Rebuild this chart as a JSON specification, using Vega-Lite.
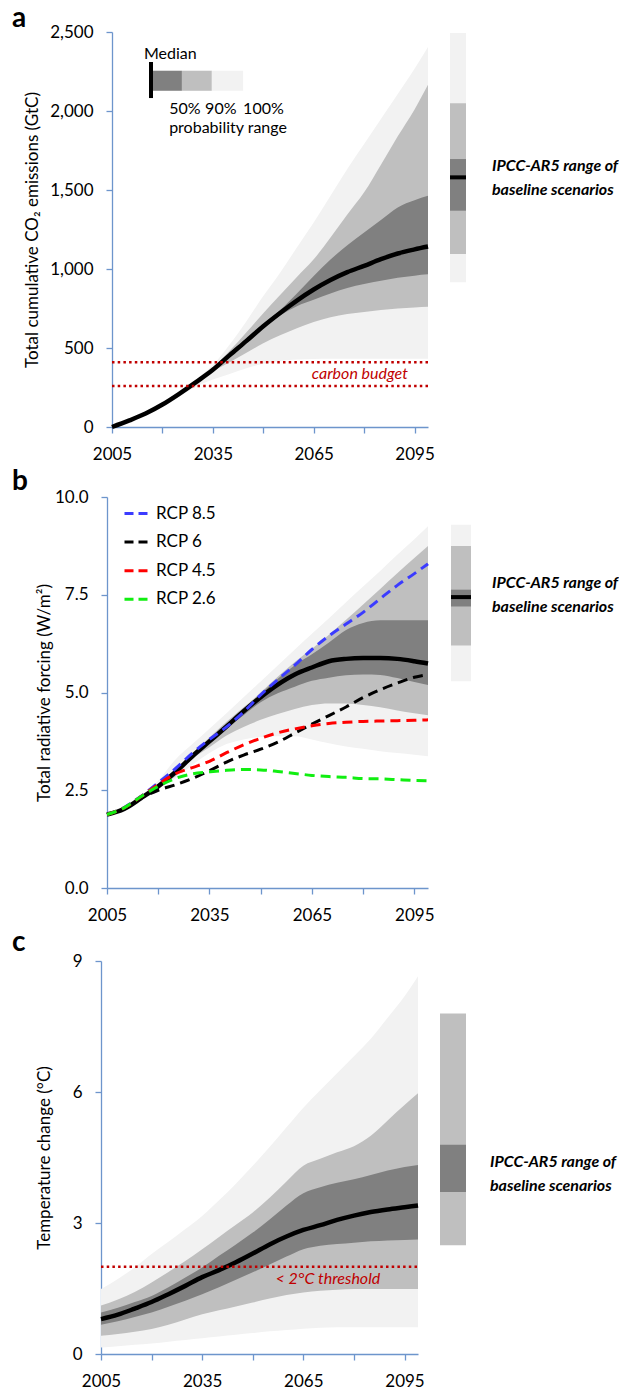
{
  "$schema": "https://vega.github.io/schema/vega-lite/v6.json",
  "background": "white",
  "padding": {"left": 12, "top": 5, "right": 0, "bottom": 0},
  "config": {
    "font": "Lato",
    "view": {"stroke": null},
    "axis": {"domainColor": "#6d95cc", "tickColor": "#6d95cc", "domainWidth": 1.3, "tickWidth": 1.3, "grid": false, "labelFont": "Lato", "labelFontSize": 17, "labelColor": "#000000", "titleFont": "Lato", "titleFontSize": 17, "titleFontWeight": "normal", "titleColor": "#000000", "tickSize": 6, "labelPadding": 13},
    "title": {"font": "Lato", "fontSize": 28, "fontWeight": "bold", "anchor": "start", "frame": "group", "color": "#000000", "offset": 0},
    "text": {"font": "Lato"}
  },
  "datasets": {
    "a": [
      {"year":2005,"median":0,"lo50":0,"hi50":0,"lo90":0,"hi90":0,"lo100":0,"hi100":0},
      {"year":2010,"median":40,"lo50":40,"hi50":40,"lo90":40,"hi90":40,"lo100":40,"hi100":40},
      {"year":2015,"median":85,"lo50":85,"hi50":85,"lo90":85,"hi90":85,"lo100":85,"hi100":85},
      {"year":2020,"median":142,"lo50":142,"hi50":142,"lo90":142,"hi90":142,"lo100":140,"hi100":145},
      {"year":2025,"median":210,"lo50":210,"hi50":210,"lo90":208,"hi90":212,"lo100":195,"hi100":216},
      {"year":2030,"median":284,"lo50":283,"hi50":285,"lo90":278,"hi90":292,"lo100":255,"hi100":300},
      {"year":2035,"median":362,"lo50":360,"hi50":364,"lo90":352,"hi90":375,"lo100":300,"hi100":392},
      {"year":2040,"median":455,"lo50":450,"hi50":460,"lo90":410,"hi90":482,"lo100":335,"hi100":522},
      {"year":2045,"median":545,"lo50":538,"hi50":552,"lo90":470,"hi90":600,"lo100":372,"hi100":670},
      {"year":2050,"median":638,"lo50":625,"hi50":650,"lo90":530,"hi90":720,"lo100":400,"hi100":829},
      {"year":2055,"median":722,"lo50":705,"hi50":740,"lo90":580,"hi90":835,"lo100":418,"hi100":977},
      {"year":2060,"median":800,"lo50":765,"hi50":845,"lo90":625,"hi90":950,"lo100":427,"hi100":1136},
      {"year":2065,"median":870,"lo50":805,"hi50":955,"lo90":665,"hi90":1061,"lo100":431,"hi100":1294},
      {"year":2070,"median":930,"lo50":845,"hi50":1060,"lo90":695,"hi90":1200,"lo100":432,"hi100":1463},
      {"year":2075,"median":980,"lo50":880,"hi50":1150,"lo90":715,"hi90":1345,"lo100":432,"hi100":1633},
      {"year":2080,"median":1020,"lo50":905,"hi50":1231,"lo90":728,"hi90":1485,"lo100":432,"hi100":1791},
      {"year":2085,"median":1062,"lo50":925,"hi50":1310,"lo90":740,"hi90":1660,"lo100":432,"hi100":1950},
      {"year":2090,"median":1098,"lo50":945,"hi50":1390,"lo90":750,"hi90":1840,"lo100":432,"hi100":2108},
      {"year":2095,"median":1124,"lo50":958,"hi50":1435,"lo90":757,"hi90":2010,"lo100":432,"hi100":2267},
      {"year":2099,"median":1142,"lo50":966,"hi50":1463,"lo90":761,"hi90":2166,"lo100":432,"hi100":2405}
    ],
    "b": [
      {"year":2005,"median":1.88,"lo50":1.88,"hi50":1.88,"lo90":1.88,"hi90":1.88,"lo100":1.88,"hi100":1.88},
      {"year":2010,"median":2.02,"lo50":2.02,"hi50":2.02,"lo90":2.02,"hi90":2.02,"lo100":2.01,"hi100":2.05},
      {"year":2015,"median":2.30,"lo50":2.30,"hi50":2.30,"lo90":2.29,"hi90":2.32,"lo100":2.27,"hi100":2.36},
      {"year":2020,"median":2.60,"lo50":2.60,"hi50":2.60,"lo90":2.58,"hi90":2.66,"lo100":2.55,"hi100":2.75},
      {"year":2025,"median":2.96,"lo50":2.95,"hi50":2.98,"lo90":2.85,"hi90":3.05,"lo100":2.80,"hi100":3.28},
      {"year":2030,"median":3.37,"lo50":3.35,"hi50":3.40,"lo90":3.30,"hi90":3.45,"lo100":3.15,"hi100":3.68},
      {"year":2035,"median":3.75,"lo50":3.72,"hi50":3.78,"lo90":3.60,"hi90":3.85,"lo100":3.45,"hi100":4.07},
      {"year":2040,"median":4.13,"lo50":4.08,"hi50":4.18,"lo90":3.90,"hi90":4.25,"lo100":3.68,"hi100":4.47},
      {"year":2045,"median":4.52,"lo50":4.42,"hi50":4.58,"lo90":4.12,"hi90":4.62,"lo100":3.80,"hi100":4.88},
      {"year":2050,"median":4.88,"lo50":4.75,"hi50":4.97,"lo90":4.30,"hi90":5.00,"lo100":3.86,"hi100":5.28},
      {"year":2055,"median":5.20,"lo50":4.98,"hi50":5.35,"lo90":4.45,"hi90":5.40,"lo100":3.88,"hi100":5.69},
      {"year":2060,"median":5.46,"lo50":5.15,"hi50":5.70,"lo90":4.58,"hi90":5.78,"lo100":3.88,"hi100":6.10},
      {"year":2065,"median":5.64,"lo50":5.30,"hi50":5.98,"lo90":4.68,"hi90":6.12,"lo100":3.80,"hi100":6.50},
      {"year":2070,"median":5.80,"lo50":5.38,"hi50":6.28,"lo90":4.72,"hi90":6.48,"lo100":3.70,"hi100":6.90},
      {"year":2075,"median":5.86,"lo50":5.44,"hi50":6.60,"lo90":4.72,"hi90":6.86,"lo100":3.62,"hi100":7.31},
      {"year":2080,"median":5.88,"lo50":5.46,"hi50":6.78,"lo90":4.68,"hi90":7.25,"lo100":3.56,"hi100":7.71},
      {"year":2085,"median":5.88,"lo50":5.45,"hi50":6.85,"lo90":4.62,"hi90":7.65,"lo100":3.50,"hi100":8.11},
      {"year":2090,"median":5.86,"lo50":5.37,"hi50":6.85,"lo90":4.54,"hi90":8.05,"lo100":3.45,"hi100":8.52},
      {"year":2095,"median":5.80,"lo50":5.27,"hi50":6.85,"lo90":4.47,"hi90":8.44,"lo100":3.41,"hi100":8.92},
      {"year":2099,"median":5.74,"lo50":5.19,"hi50":6.85,"lo90":4.42,"hi90":8.75,"lo100":3.37,"hi100":9.25}
    ],
    "rcp": [
      {"year":2005,"scenario":"RCP 8.5","rf":1.88},{"year":2010,"scenario":"RCP 8.5","rf":2.06},{"year":2015,"scenario":"RCP 8.5","rf":2.35},{"year":2020,"scenario":"RCP 8.5","rf":2.69},{"year":2025,"scenario":"RCP 8.5","rf":3.05},{"year":2030,"scenario":"RCP 8.5","rf":3.45},{"year":2035,"scenario":"RCP 8.5","rf":3.80},{"year":2040,"scenario":"RCP 8.5","rf":4.12},{"year":2045,"scenario":"RCP 8.5","rf":4.50},{"year":2050,"scenario":"RCP 8.5","rf":4.94},{"year":2055,"scenario":"RCP 8.5","rf":5.33},{"year":2060,"scenario":"RCP 8.5","rf":5.70},{"year":2065,"scenario":"RCP 8.5","rf":6.10},{"year":2070,"scenario":"RCP 8.5","rf":6.45},{"year":2075,"scenario":"RCP 8.5","rf":6.75},{"year":2080,"scenario":"RCP 8.5","rf":7.05},{"year":2085,"scenario":"RCP 8.5","rf":7.40},{"year":2090,"scenario":"RCP 8.5","rf":7.74},{"year":2095,"scenario":"RCP 8.5","rf":8.04},{"year":2099,"scenario":"RCP 8.5","rf":8.29},
      {"year":2005,"scenario":"RCP 6","rf":1.88},{"year":2010,"scenario":"RCP 6","rf":2.03},{"year":2015,"scenario":"RCP 6","rf":2.30},{"year":2020,"scenario":"RCP 6","rf":2.50},{"year":2025,"scenario":"RCP 6","rf":2.64},{"year":2030,"scenario":"RCP 6","rf":2.80},{"year":2035,"scenario":"RCP 6","rf":3.00},{"year":2040,"scenario":"RCP 6","rf":3.22},{"year":2045,"scenario":"RCP 6","rf":3.40},{"year":2050,"scenario":"RCP 6","rf":3.55},{"year":2055,"scenario":"RCP 6","rf":3.73},{"year":2060,"scenario":"RCP 6","rf":3.96},{"year":2065,"scenario":"RCP 6","rf":4.19},{"year":2070,"scenario":"RCP 6","rf":4.41},{"year":2075,"scenario":"RCP 6","rf":4.63},{"year":2080,"scenario":"RCP 6","rf":4.87},{"year":2085,"scenario":"RCP 6","rf":5.07},{"year":2090,"scenario":"RCP 6","rf":5.24},{"year":2095,"scenario":"RCP 6","rf":5.39},{"year":2099,"scenario":"RCP 6","rf":5.46},
      {"year":2005,"scenario":"RCP 4.5","rf":1.88},{"year":2010,"scenario":"RCP 4.5","rf":2.05},{"year":2015,"scenario":"RCP 4.5","rf":2.34},{"year":2020,"scenario":"RCP 4.5","rf":2.65},{"year":2025,"scenario":"RCP 4.5","rf":2.92},{"year":2030,"scenario":"RCP 4.5","rf":3.08},{"year":2035,"scenario":"RCP 4.5","rf":3.24},{"year":2040,"scenario":"RCP 4.5","rf":3.46},{"year":2045,"scenario":"RCP 4.5","rf":3.66},{"year":2050,"scenario":"RCP 4.5","rf":3.83},{"year":2055,"scenario":"RCP 4.5","rf":3.97},{"year":2060,"scenario":"RCP 4.5","rf":4.07},{"year":2065,"scenario":"RCP 4.5","rf":4.15},{"year":2070,"scenario":"RCP 4.5","rf":4.21},{"year":2075,"scenario":"RCP 4.5","rf":4.24},{"year":2080,"scenario":"RCP 4.5","rf":4.26},{"year":2085,"scenario":"RCP 4.5","rf":4.27},{"year":2090,"scenario":"RCP 4.5","rf":4.28},{"year":2095,"scenario":"RCP 4.5","rf":4.29},{"year":2099,"scenario":"RCP 4.5","rf":4.30},
      {"year":2005,"scenario":"RCP 2.6","rf":1.88},{"year":2010,"scenario":"RCP 2.6","rf":2.05},{"year":2015,"scenario":"RCP 2.6","rf":2.34},{"year":2020,"scenario":"RCP 2.6","rf":2.60},{"year":2025,"scenario":"RCP 2.6","rf":2.80},{"year":2030,"scenario":"RCP 2.6","rf":2.92},{"year":2035,"scenario":"RCP 2.6","rf":2.97},{"year":2040,"scenario":"RCP 2.6","rf":3.01},{"year":2045,"scenario":"RCP 2.6","rf":3.03},{"year":2050,"scenario":"RCP 2.6","rf":3.02},{"year":2055,"scenario":"RCP 2.6","rf":2.98},{"year":2060,"scenario":"RCP 2.6","rf":2.93},{"year":2065,"scenario":"RCP 2.6","rf":2.88},{"year":2070,"scenario":"RCP 2.6","rf":2.85},{"year":2075,"scenario":"RCP 2.6","rf":2.83},{"year":2080,"scenario":"RCP 2.6","rf":2.80},{"year":2085,"scenario":"RCP 2.6","rf":2.79},{"year":2090,"scenario":"RCP 2.6","rf":2.77},{"year":2095,"scenario":"RCP 2.6","rf":2.75},{"year":2099,"scenario":"RCP 2.6","rf":2.74}
    ],
    "c": [
      {"year":2005,"median":0.80,"lo50":0.67,"hi50":0.95,"lo90":0.42,"hi90":1.11,"lo100":0.15,"hi100":1.49},
      {"year":2010,"median":0.90,"lo50":0.75,"hi50":1.06,"lo90":0.46,"hi90":1.25,"lo100":0.18,"hi100":1.72},
      {"year":2015,"median":1.04,"lo50":0.85,"hi50":1.19,"lo90":0.51,"hi90":1.42,"lo100":0.21,"hi100":1.98},
      {"year":2020,"median":1.19,"lo50":0.95,"hi50":1.33,"lo90":0.57,"hi90":1.64,"lo100":0.24,"hi100":2.29},
      {"year":2025,"median":1.37,"lo50":1.08,"hi50":1.53,"lo90":0.67,"hi90":1.88,"lo100":0.28,"hi100":2.57},
      {"year":2030,"median":1.56,"lo50":1.22,"hi50":1.75,"lo90":0.79,"hi90":2.13,"lo100":0.32,"hi100":2.86},
      {"year":2035,"median":1.76,"lo50":1.37,"hi50":1.98,"lo90":0.91,"hi90":2.40,"lo100":0.36,"hi100":3.16},
      {"year":2040,"median":1.92,"lo50":1.53,"hi50":2.25,"lo90":1.00,"hi90":2.68,"lo100":0.40,"hi100":3.52},
      {"year":2045,"median":2.10,"lo50":1.70,"hi50":2.51,"lo90":1.09,"hi90":2.96,"lo100":0.44,"hi100":3.90},
      {"year":2050,"median":2.30,"lo50":1.87,"hi50":2.78,"lo90":1.18,"hi90":3.24,"lo100":0.48,"hi100":4.31},
      {"year":2055,"median":2.51,"lo50":2.05,"hi50":3.08,"lo90":1.27,"hi90":3.58,"lo100":0.52,"hi100":4.74},
      {"year":2060,"median":2.69,"lo50":2.23,"hi50":3.40,"lo90":1.35,"hi90":3.95,"lo100":0.55,"hi100":5.19},
      {"year":2065,"median":2.84,"lo50":2.40,"hi50":3.68,"lo90":1.41,"hi90":4.31,"lo100":0.58,"hi100":5.64},
      {"year":2070,"median":2.95,"lo50":2.48,"hi50":3.82,"lo90":1.45,"hi90":4.47,"lo100":0.60,"hi100":6.04},
      {"year":2075,"median":3.07,"lo50":2.52,"hi50":3.92,"lo90":1.47,"hi90":4.62,"lo100":0.61,"hi100":6.43},
      {"year":2080,"median":3.17,"lo50":2.55,"hi50":4.00,"lo90":1.49,"hi90":4.76,"lo100":0.61,"hi100":6.82},
      {"year":2085,"median":3.25,"lo50":2.58,"hi50":4.10,"lo90":1.49,"hi90":5.00,"lo100":0.61,"hi100":7.22},
      {"year":2090,"median":3.31,"lo50":2.60,"hi50":4.20,"lo90":1.49,"hi90":5.35,"lo100":0.61,"hi100":7.70},
      {"year":2095,"median":3.36,"lo50":2.61,"hi50":4.28,"lo90":1.49,"hi90":5.70,"lo100":0.61,"hi100":8.19},
      {"year":2099,"median":3.40,"lo50":2.62,"hi50":4.33,"lo90":1.49,"hi90":5.97,"lo100":0.61,"hi100":8.65}
    ],
    "budget": [{"budget": 260}, {"budget": 410}],
    "budgetLabel": [{"year": 2093, "value": 333, "label": "carbon budget"}],
    "threshold": [{"limit": 2}],
    "thresholdLabel": [{"year": 2087.8, "value": 1.72, "label": "< 2°C threshold"}],
    "legRect": [
      {"range": "50%", "x0": 2017.2, "x1": 2025.8, "y0": 2128, "y1": 2255},
      {"range": "90%", "x0": 2025.8, "x1": 2034.7, "y0": 2128, "y1": 2255},
      {"range": "100%", "x0": 2034.7, "x1": 2044.0, "y0": 2128, "y1": 2255}
    ],
    "legMedian": [{"x": 2016.6, "y0": 2082, "y1": 2310}],
    "legText": [
      {"x": 2014.5, "y": 2361, "label": "Median"},
      {"x": 2022.0, "y": 2013, "label": "50%"},
      {"x": 2032.7, "y": 2013, "label": "90%"},
      {"x": 2044.0, "y": 2013, "label": "100%"},
      {"x": 2022.0, "y": 1892, "label": "probability range"}
    ],
    "ipccA": [{"group": "IPCC-AR5", "lo100": 916, "lo90": 1095, "lo50": 1369, "median": 1580, "hi50": 1696, "hi90": 2049, "hi100": 2494, "label": ["IPCC-AR5 range of", "baseline scenarios"], "textY": 1652}],
    "ipccB": [{"group": "IPCC-AR5", "lo100": 5.29, "lo90": 6.20, "lo50": 7.20, "median": 7.44, "hi50": 7.63, "hi90": 8.75, "hi100": 9.29, "label": ["IPCC-AR5 range of", "baseline scenarios"], "textY": 7.8}],
    "ipccC": [{"group": "IPCC-AR5", "lo90": 2.49, "lo50": 3.71, "hi50": 4.79, "hi90": 7.80, "label": ["IPCC-AR5 range of", "baseline scenarios"], "textY": 4.39}]
  },
  "columns": 1,
  "align": "none",
  "spacing": 6,
  "resolve": {"scale": {"color": "independent"}, "legend": {"color": "independent"}},
  "concat": [
    {
      "hconcat": [
        {
          "width": 316, "height": 395,
          "title": {"text": "a", "dx": -100, "offset": -10},
          "layer": [
            {"data": {"name": "a"}, "mark": {"type": "area", "color": "#f2f2f2", "interpolate": "monotone"},
             "encoding": {
               "x": {"field": "year", "type": "quantitative", "scale": {"domain": [2005, 2099], "nice": false, "zero": false},
                     "axis": {"values": [2005, 2020, 2035, 2050, 2065, 2080, 2095], "format": "d", "labelExpr": "(datum.value - 2005) % 30 == 0 ? datum.label : ''", "labelFlush": false, "labelOverlap": false, "title": null}},
               "y": {"field": "lo100", "type": "quantitative", "scale": {"domain": [0, 2500], "nice": false},
                     "axis": {"values": [0, 500, 1000, 1500, 2000, 2500], "format": ",d", "title": "Total cumulative CO₂ emissions (GtC)", "titlePadding": 8}},
               "y2": {"field": "hi100"}}},
            {"data": {"name": "a"}, "mark": {"type": "area", "color": "#bfbfbf", "interpolate": "monotone"},
             "encoding": {"x": {"field": "year", "type": "quantitative"}, "y": {"field": "lo90", "type": "quantitative"}, "y2": {"field": "hi90"}}},
            {"data": {"name": "a"}, "mark": {"type": "area", "color": "#808080", "interpolate": "monotone"},
             "encoding": {"x": {"field": "year", "type": "quantitative"}, "y": {"field": "lo50", "type": "quantitative"}, "y2": {"field": "hi50"}}},
            {"data": {"name": "a"}, "mark": {"type": "line", "color": "#000000", "strokeWidth": 4.5, "interpolate": "monotone"},
             "encoding": {"x": {"field": "year", "type": "quantitative"}, "y": {"field": "median", "type": "quantitative"}}},
            {"data": {"name": "budget"}, "mark": {"type": "rule", "color": "#c00000", "strokeWidth": 2.5, "strokeDash": [2.5, 3.2]},
             "encoding": {"y": {"field": "budget", "type": "quantitative"}}},
            {"data": {"name": "budgetLabel"}, "mark": {"type": "text", "align": "right", "baseline": "middle", "fontSize": 16, "fontStyle": "italic", "color": "#c00000"},
             "encoding": {"x": {"field": "year", "type": "quantitative"}, "y": {"field": "value", "type": "quantitative"}, "text": {"field": "label"}}},
            {"data": {"name": "legRect"}, "mark": {"type": "rect"},
             "encoding": {"x": {"field": "x0", "type": "quantitative"}, "x2": {"field": "x1"}, "y": {"field": "y0", "type": "quantitative"}, "y2": {"field": "y1"},
                          "color": {"field": "range", "type": "nominal", "scale": {"domain": ["50%", "90%", "100%"], "range": ["#808080", "#bfbfbf", "#f2f2f2"]}, "legend": null}}},
            {"data": {"name": "legMedian"}, "mark": {"type": "rule", "color": "#000000", "strokeWidth": 4},
             "encoding": {"x": {"field": "x", "type": "quantitative"}, "y": {"field": "y0", "type": "quantitative"}, "y2": {"field": "y1"}}},
            {"data": {"name": "legText"}, "mark": {"type": "text", "align": "left", "baseline": "middle", "fontSize": 16, "color": "#000000"},
             "encoding": {"x": {"field": "x", "type": "quantitative"}, "y": {"field": "y", "type": "quantitative"}, "text": {"field": "label"}}}
          ]
        },
        {
          "width": 16, "height": 395,
          "layer": [
            {"data": {"name": "ipccA"}, "mark": {"type": "rect", "color": "#f2f2f2"},
             "encoding": {"x": {"field": "group", "type": "nominal", "scale": {"paddingInner": 0, "paddingOuter": 0}, "axis": null},
                          "y": {"field": "lo100", "type": "quantitative", "scale": {"domain": [0, 2500], "nice": false}, "axis": null}, "y2": {"field": "hi100"}}},
            {"data": {"name": "ipccA"}, "mark": {"type": "rect", "color": "#bfbfbf"},
             "encoding": {"x": {"field": "group", "type": "nominal", "axis": null}, "y": {"field": "lo90", "type": "quantitative", "axis": null}, "y2": {"field": "hi90"}}},
            {"data": {"name": "ipccA"}, "mark": {"type": "rect", "color": "#808080"},
             "encoding": {"x": {"field": "group", "type": "nominal", "axis": null}, "y": {"field": "lo50", "type": "quantitative", "axis": null}, "y2": {"field": "hi50"}}},
            {"data": {"name": "ipccA"}, "mark": {"type": "rule", "color": "#000000", "strokeWidth": 4},
             "encoding": {"y": {"field": "median", "type": "quantitative", "axis": null}}},
            {"data": {"name": "ipccA"}, "mark": {"type": "text", "align": "left", "baseline": "middle", "dx": 26, "fontSize": 16, "fontWeight": "bold", "fontStyle": "italic", "lineHeight": 24, "color": "#000000"},
             "encoding": {"x": {"field": "group", "type": "nominal", "bandPosition": 1, "axis": null}, "y": {"field": "textY", "type": "quantitative", "axis": null}, "text": {"field": "label"}}}
          ]
        }
      ],
      "spacing": 11,
      "resolve": {"scale": {"color": "independent"}, "legend": {"color": "independent"}}
    },
    {
      "hconcat": [
        {
          "width": 316, "height": 391,
          "title": {"text": "b", "dx": -100, "offset": -8},
          "layer": [
            {"data": {"name": "b"}, "mark": {"type": "area", "color": "#f2f2f2", "interpolate": "monotone"},
             "encoding": {
               "x": {"field": "year", "type": "quantitative", "scale": {"domain": [2005, 2099], "range": [-5, 316], "nice": false, "zero": false},
                     "axis": {"values": [2005, 2020, 2035, 2050, 2065, 2080, 2095], "format": "d", "labelExpr": "(datum.value - 2005) % 30 == 0 ? datum.label : ''", "labelFlush": false, "labelOverlap": false, "title": null}},
               "y": {"field": "lo100", "type": "quantitative", "scale": {"domain": [0, 10], "nice": false},
                     "axis": {"values": [0, 2.5, 5, 7.5, 10], "format": ".1f", "title": "Total radiative forcing (W/m²)", "titlePadding": 1, "offset": 5}},
               "y2": {"field": "hi100"}}},
            {"data": {"name": "b"}, "mark": {"type": "area", "color": "#bfbfbf", "interpolate": "monotone"},
             "encoding": {"x": {"field": "year", "type": "quantitative"}, "y": {"field": "lo90", "type": "quantitative"}, "y2": {"field": "hi90"}}},
            {"data": {"name": "b"}, "mark": {"type": "area", "color": "#808080", "interpolate": "monotone"},
             "encoding": {"x": {"field": "year", "type": "quantitative"}, "y": {"field": "lo50", "type": "quantitative"}, "y2": {"field": "hi50"}}},
            {"data": {"name": "b"}, "mark": {"type": "line", "color": "#000000", "strokeWidth": 4.5, "interpolate": "monotone"},
             "encoding": {"x": {"field": "year", "type": "quantitative"}, "y": {"field": "median", "type": "quantitative"}}},
            {"data": {"name": "rcp"}, "mark": {"type": "line", "strokeWidth": 3, "strokeDash": [10, 6], "interpolate": "monotone"},
             "encoding": {"x": {"field": "year", "type": "quantitative"}, "y": {"field": "rf", "type": "quantitative"},
                          "color": {"field": "scenario", "type": "nominal",
                                    "scale": {"domain": ["RCP 8.5", "RCP 6", "RCP 4.5", "RCP 2.6"], "range": ["#3b3bff", "#000000", "#ff0000", "#11ee11"]},
                                    "legend": {"orient": "none", "legendX": 11, "legendY": 1, "title": null, "symbolType": "stroke", "symbolSize": 784, "symbolStrokeWidth": 3, "symbolDash": [9, 5], "labelFontSize": 17, "labelFont": "Lato", "labelColor": "#000000", "labelOffset": 2, "rowPadding": 4.6, "padding": 0}}}}
          ]
        },
        {
          "width": 20, "height": 391,
          "layer": [
            {"data": {"name": "ipccB"}, "mark": {"type": "rect", "color": "#f2f2f2"},
             "encoding": {"x": {"field": "group", "type": "nominal", "scale": {"paddingInner": 0, "paddingOuter": 0}, "axis": null},
                          "y": {"field": "lo100", "type": "quantitative", "scale": {"domain": [0, 10], "nice": false}, "axis": null}, "y2": {"field": "hi100"}}},
            {"data": {"name": "ipccB"}, "mark": {"type": "rect", "color": "#bfbfbf"},
             "encoding": {"x": {"field": "group", "type": "nominal", "axis": null}, "y": {"field": "lo90", "type": "quantitative", "axis": null}, "y2": {"field": "hi90"}}},
            {"data": {"name": "ipccB"}, "mark": {"type": "rect", "color": "#808080"},
             "encoding": {"x": {"field": "group", "type": "nominal", "axis": null}, "y": {"field": "lo50", "type": "quantitative", "axis": null}, "y2": {"field": "hi50"}}},
            {"data": {"name": "ipccB"}, "mark": {"type": "rule", "color": "#000000", "strokeWidth": 4},
             "encoding": {"y": {"field": "median", "type": "quantitative", "axis": null}}},
            {"data": {"name": "ipccB"}, "mark": {"type": "text", "align": "left", "baseline": "middle", "dx": 21, "fontSize": 16, "fontWeight": "bold", "fontStyle": "italic", "lineHeight": 24, "color": "#000000"},
             "encoding": {"x": {"field": "group", "type": "nominal", "bandPosition": 1, "axis": null}, "y": {"field": "textY", "type": "quantitative", "axis": null}, "text": {"field": "label"}}}
          ]
        }
      ],
      "spacing": 12,
      "resolve": {"scale": {"color": "independent"}, "legend": {"color": "independent"}}
    },
    {
      "hconcat": [
        {
          "width": 306, "height": 393,
          "title": {"text": "c", "dx": -100, "offset": -5},
          "layer": [
            {"data": {"name": "c"}, "mark": {"type": "area", "color": "#f2f2f2", "interpolate": "monotone"},
             "encoding": {
               "x": {"field": "year", "type": "quantitative", "scale": {"domain": [2005, 2099], "range": [-11, 306], "nice": false, "zero": false},
                     "axis": {"values": [2005, 2020, 2035, 2050, 2065, 2080, 2095], "format": "d", "labelExpr": "(datum.value - 2005) % 30 == 0 ? datum.label : ''", "labelFlush": false, "labelOverlap": false, "title": null}},
               "y": {"field": "lo100", "type": "quantitative", "scale": {"domain": [0, 9], "nice": false},
                     "axis": {"values": [0, 3, 6, 9], "format": "d", "title": "Temperature change (°C)", "titlePadding": 19, "offset": 11}},
               "y2": {"field": "hi100"}}},
            {"data": {"name": "c"}, "mark": {"type": "area", "color": "#bfbfbf", "interpolate": "monotone"},
             "encoding": {"x": {"field": "year", "type": "quantitative"}, "y": {"field": "lo90", "type": "quantitative"}, "y2": {"field": "hi90"}}},
            {"data": {"name": "c"}, "mark": {"type": "area", "color": "#808080", "interpolate": "monotone"},
             "encoding": {"x": {"field": "year", "type": "quantitative"}, "y": {"field": "lo50", "type": "quantitative"}, "y2": {"field": "hi50"}}},
            {"data": {"name": "c"}, "mark": {"type": "line", "color": "#000000", "strokeWidth": 4.5, "interpolate": "monotone"},
             "encoding": {"x": {"field": "year", "type": "quantitative"}, "y": {"field": "median", "type": "quantitative"}}},
            {"data": {"name": "threshold"}, "mark": {"type": "rule", "color": "#c00000", "strokeWidth": 2.5, "strokeDash": [2.5, 3.2]},
             "encoding": {"x": {"datum": 2005}, "x2": {"datum": 2099}, "y": {"field": "limit", "type": "quantitative"}}},
            {"data": {"name": "thresholdLabel"}, "mark": {"type": "text", "align": "right", "baseline": "middle", "fontSize": 16, "fontStyle": "italic", "color": "#c00000"},
             "encoding": {"x": {"field": "year", "type": "quantitative"}, "y": {"field": "value", "type": "quantitative"}, "text": {"field": "label"}}}
          ]
        },
        {
          "width": 26, "height": 393,
          "layer": [
            {"data": {"name": "ipccC"}, "mark": {"type": "rect", "color": "#bfbfbf"},
             "encoding": {"x": {"field": "group", "type": "nominal", "scale": {"paddingInner": 0, "paddingOuter": 0}, "axis": null},
                          "y": {"field": "lo90", "type": "quantitative", "scale": {"domain": [0, 9], "nice": false}, "axis": null}, "y2": {"field": "hi90"}}},
            {"data": {"name": "ipccC"}, "mark": {"type": "rect", "color": "#808080"},
             "encoding": {"x": {"field": "group", "type": "nominal", "axis": null}, "y": {"field": "lo50", "type": "quantitative", "axis": null}, "y2": {"field": "hi50"}}},
            {"data": {"name": "ipccC"}, "mark": {"type": "text", "align": "left", "baseline": "middle", "dx": 24, "fontSize": 16, "fontWeight": "bold", "fontStyle": "italic", "lineHeight": 24, "color": "#000000"},
             "encoding": {"x": {"field": "group", "type": "nominal", "bandPosition": 1, "axis": null}, "y": {"field": "textY", "type": "quantitative", "axis": null}, "text": {"field": "label"}}}
          ]
        }
      ],
      "spacing": 11,
      "resolve": {"scale": {"color": "independent"}, "legend": {"color": "independent"}}
    }
  ]
}
